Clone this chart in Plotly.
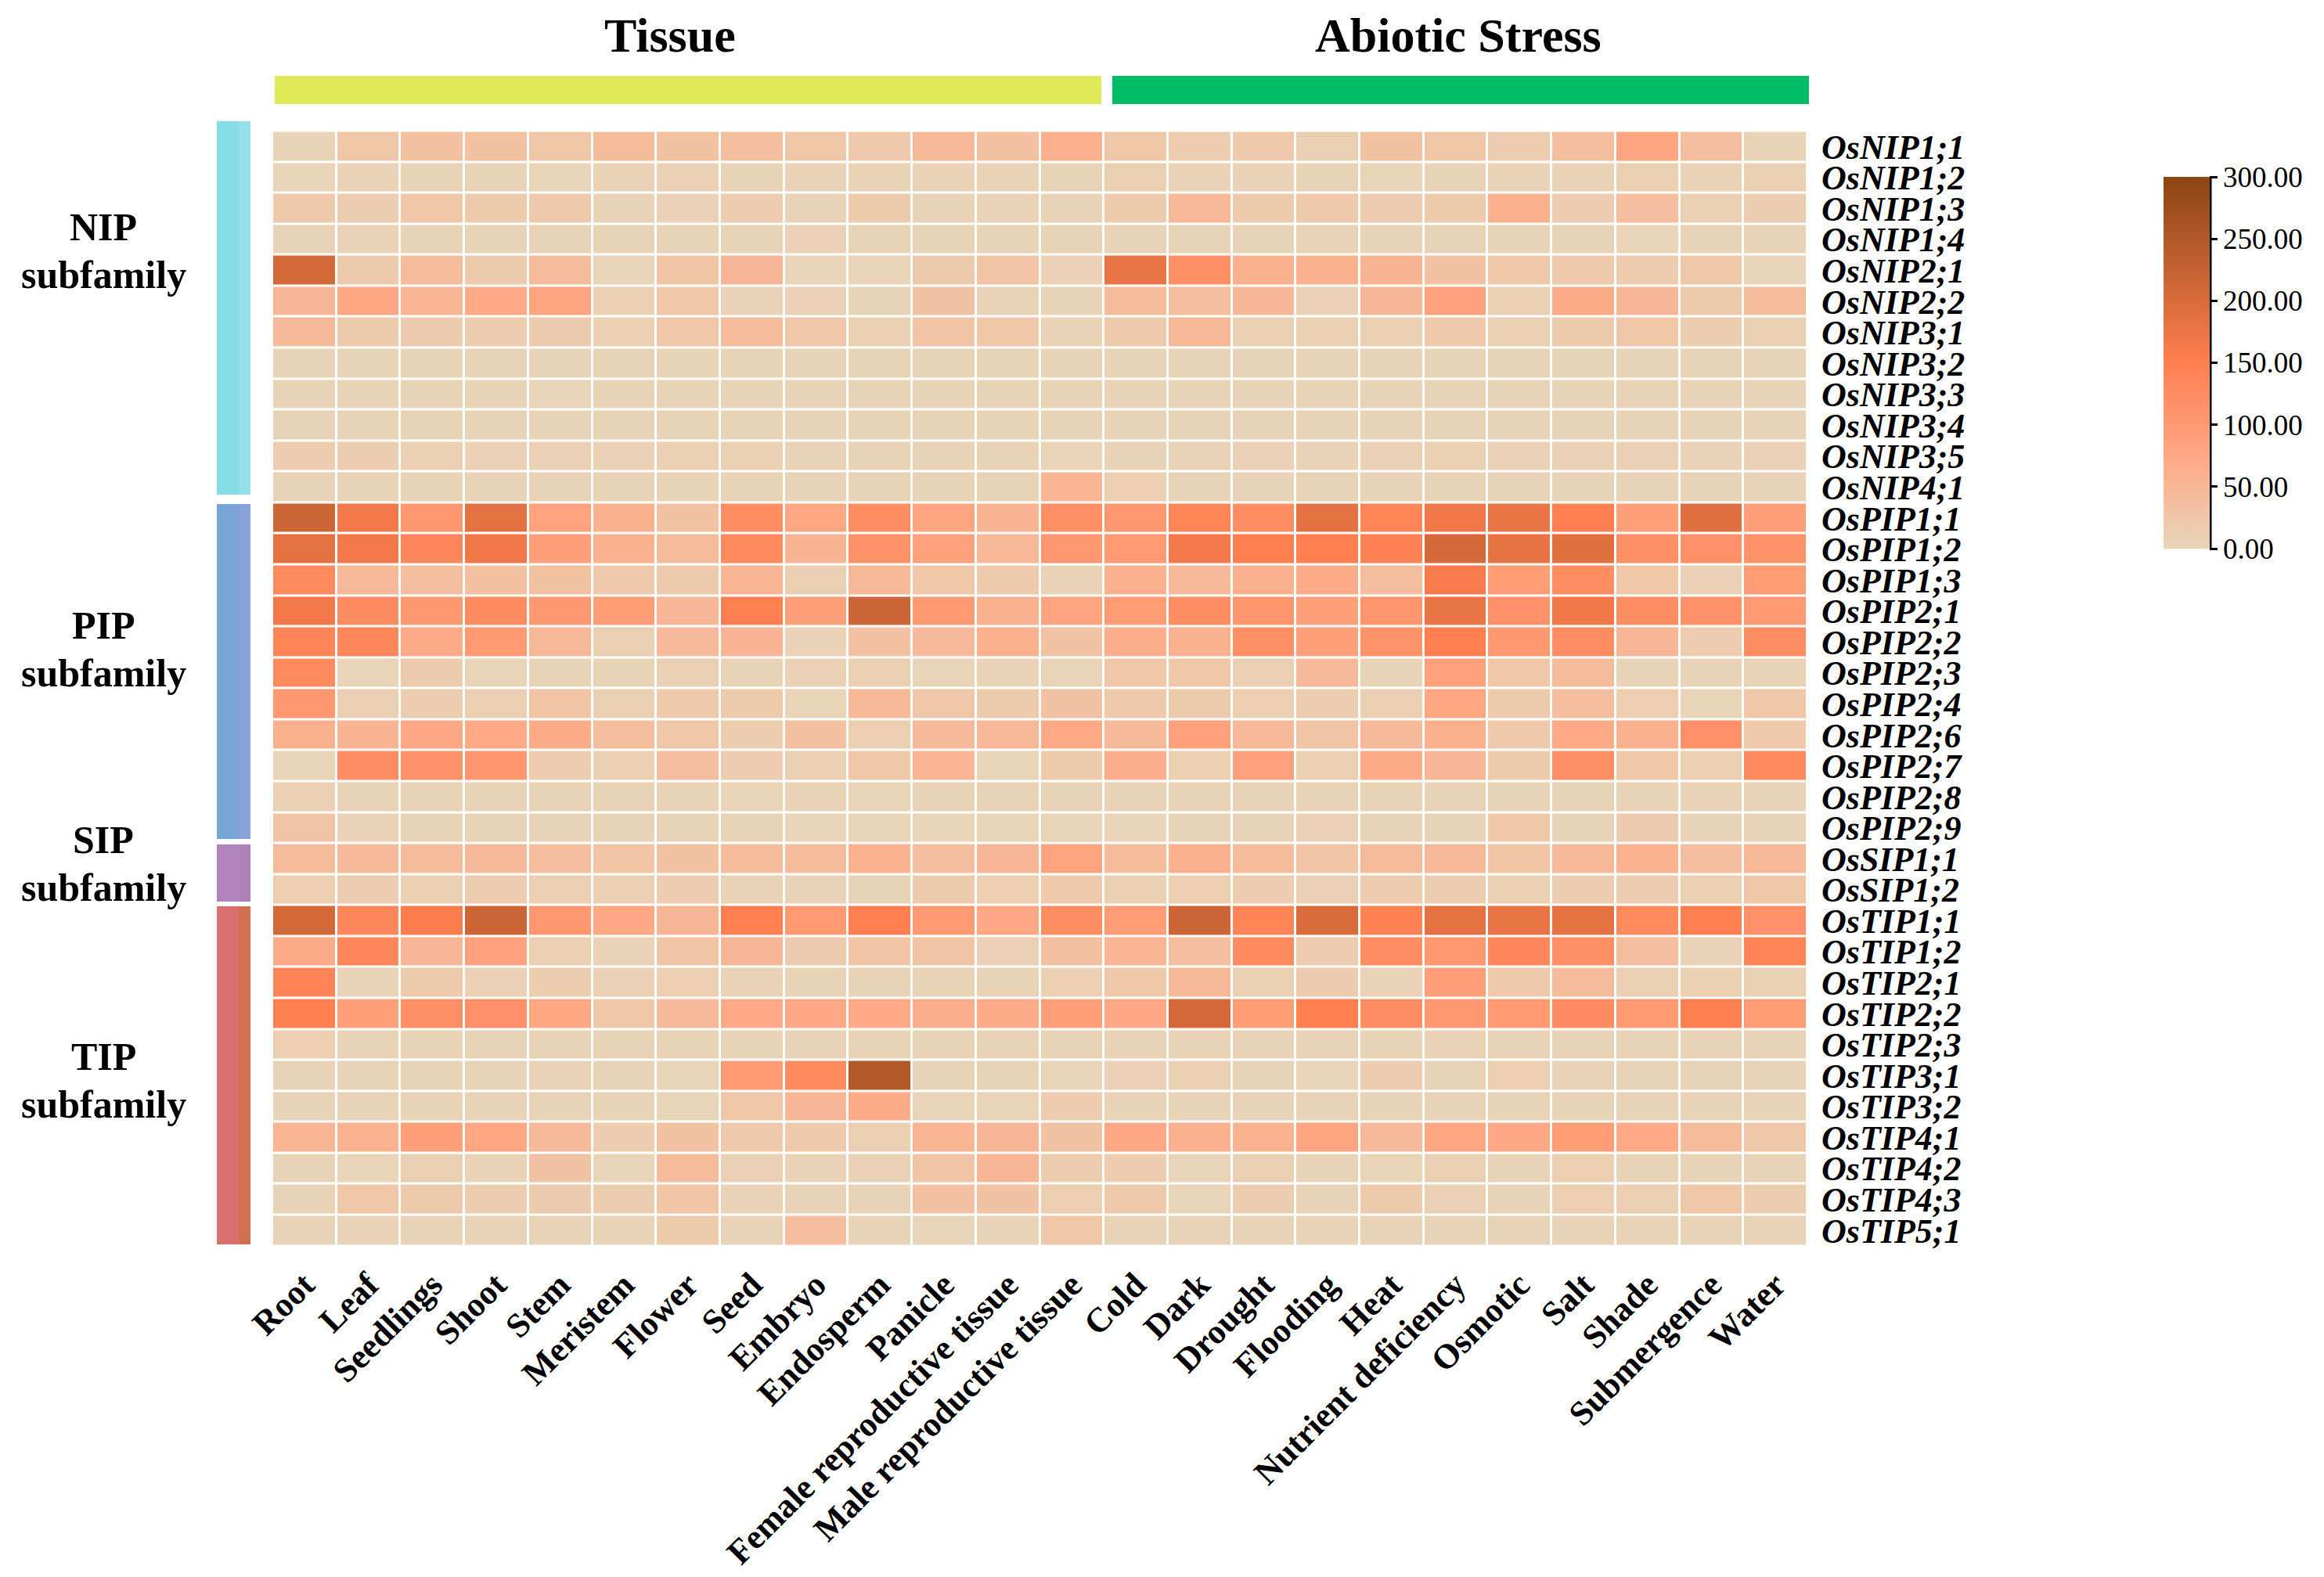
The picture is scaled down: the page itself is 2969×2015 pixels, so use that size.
import plotly.graph_objects as go

W = 2969
H = 2015

tissue = ["Root", "Leaf", "Seedlings", "Shoot", "Stem", "Meristem", "Flower", "Seed", "Embryo",
          "Endosperm", "Panicle", "Female reproductive tissue", "Male reproductive tissue"]
stress = ["Cold", "Dark", "Drought", "Flooding", "Heat", "Nutrient deficiency", "Osmotic", "Salt",
          "Shade", "Submergence", "Water"]

nip_genes = ["OsNIP1;1", "OsNIP1;2", "OsNIP1;3", "OsNIP1;4", "OsNIP2;1", "OsNIP2;2", "OsNIP3;1",
             "OsNIP3;2", "OsNIP3;3", "OsNIP3;4", "OsNIP3;5", "OsNIP4;1"]
pip_genes = ["OsPIP1;1", "OsPIP1;2", "OsPIP1;3", "OsPIP2;1", "OsPIP2;2", "OsPIP2;3", "OsPIP2;4",
             "OsPIP2;6", "OsPIP2;7", "OsPIP2;8", "OsPIP2;9"]
sip_genes = ["OsSIP1;1", "OsSIP1;2"]
tip_genes = ["OsTIP1;1", "OsTIP1;2", "OsTIP2;1", "OsTIP2;2", "OsTIP2;3", "OsTIP3;1", "OsTIP3;2",
             "OsTIP4;1", "OsTIP4;2", "OsTIP4;3", "OsTIP5;1"]

nip_values = [
    [3, 22, 35, 32, 25, 42, 32, 38, 22, 20, 48, 35, 62, 22, 15, 20, 8, 32, 25, 15, 38, 80, 38, 3],
    [2, 5, 4, 3, 1, 5, 6, 3, 5, 5, 5, 5, 3, 8, 5, 5, 4, 2, 4, 5, 5, 8, 5, 7],
    [20, 14, 25, 18, 20, 4, 6, 15, 3, 18, 4, 5, 4, 18, 48, 18, 20, 15, 18, 62, 15, 38, 8, 14],
    [3, 5, 3, 3, 3, 3, 3, 3, 6, 3, 3, 3, 3, 4, 3, 3, 5, 3, 3, 3, 3, 2, 4, 3],
    [205, 18, 42, 18, 42, 1, 28, 50, 2, 2, 18, 28, 6, 178, 120, 62, 62, 55, 32, 22, 20, 15, 22, 1],
    [50, 78, 52, 72, 80, 7, 25, 5, 6, 4, 30, 5, 3, 42, 38, 50, 6, 50, 88, 8, 68, 50, 18, 42],
    [45, 18, 16, 15, 16, 10, 25, 42, 25, 8, 28, 22, 5, 20, 48, 8, 10, 10, 20, 8, 18, 24, 14, 8],
    [3, 3, 3, 3, 3, 3, 3, 3, 3, 3, 3, 3, 3, 3, 3, 3, 3, 3, 3, 3, 3, 3, 3, 3],
    [3, 3, 3, 3, 2, 3, 3, 3, 3, 3, 3, 3, 3, 3, 3, 3, 3, 3, 3, 3, 3, 3, 3, 3],
    [3, 3, 3, 3, 3, 3, 3, 3, 3, 3, 3, 3, 3, 4, 4, 4, 3, 3, 4, 3, 3, 3, 3, 3],
    [15, 14, 10, 6, 6, 6, 8, 8, 3, 3, 4, 3, 2, 3, 5, 6, 5, 6, 8, 6, 6, 6, 5, 6],
    [3, 3, 3, 3, 3, 3, 3, 3, 3, 3, 3, 3, 52, 12, 3, 3, 3, 3, 3, 3, 3, 3, 3, 3],
]
pip_values = [
    [215, 165, 105, 185, 85, 60, 32, 125, 78, 125, 82, 55, 120, 105, 138, 125, 185, 138, 170, 178, 150, 90, 190, 92],
    [185, 165, 135, 170, 90, 60, 42, 130, 55, 115, 88, 48, 105, 100, 165, 150, 150, 145, 205, 180, 190, 120, 118, 115],
    [130, 48, 38, 35, 32, 20, 18, 52, 10, 48, 22, 18, 5, 62, 45, 62, 68, 40, 160, 95, 125, 22, 6, 98],
    [165, 128, 103, 128, 103, 95, 50, 150, 92, 215, 100, 60, 82, 98, 122, 110, 90, 110, 178, 118, 168, 125, 115, 100],
    [140, 135, 70, 100, 48, 10, 45, 55, 5, 35, 45, 62, 30, 65, 60, 120, 90, 112, 150, 103, 125, 50, 15, 125],
    [130, 2, 16, 2, 4, 4, 8, 3, 6, 10, 2, 5, 2, 25, 22, 10, 45, 4, 88, 22, 42, 4, 3, 3],
    [105, 10, 14, 10, 28, 8, 20, 18, 2, 48, 24, 18, 30, 20, 18, 12, 14, 10, 78, 18, 38, 12, 2, 22],
    [62, 55, 75, 72, 68, 38, 25, 14, 35, 12, 45, 48, 72, 45, 88, 48, 28, 45, 62, 20, 72, 60, 118, 20],
    [2, 125, 115, 108, 15, 8, 36, 15, 8, 22, 52, 2, 18, 65, 8, 88, 10, 68, 50, 18, 120, 22, 10, 130],
    [7, 4, 3, 3, 3, 3, 3, 2, 5, 2, 3, 4, 3, 4, 4, 3, 4, 3, 4, 3, 4, 3, 5, 4],
    [26, 5, 3, 3, 3, 3, 3, 3, 2, 2, 2, 2, 2, 2, 3, 3, 6, 3, 3, 22, 3, 16, 3, 3],
]
sip_values = [
    [42, 45, 42, 45, 38, 28, 32, 42, 42, 58, 40, 50, 82, 42, 62, 42, 28, 42, 48, 28, 48, 58, 36, 48],
    [12, 14, 8, 15, 10, 10, 15, 5, 5, 4, 18, 12, 20, 7, 12, 15, 6, 15, 14, 10, 14, 14, 10, 22],
]
tip_values = [
    [205, 135, 155, 215, 105, 75, 50, 150, 100, 150, 100, 75, 125, 98, 215, 140, 200, 145, 185, 178, 185, 130, 150, 118],
    [68, 135, 50, 88, 10, 5, 28, 50, 16, 28, 28, 6, 35, 52, 40, 130, 15, 125, 105, 135, 120, 40, 5, 140],
    [140, 3, 18, 6, 14, 6, 12, 5, 3, 3, 4, 3, 12, 22, 48, 8, 16, 5, 92, 20, 42, 10, 7, 8],
    [150, 90, 120, 118, 78, 22, 45, 72, 75, 72, 65, 68, 90, 75, 205, 95, 150, 122, 105, 100, 128, 100, 150, 98],
    [12, 3, 3, 3, 3, 3, 3, 3, 3, 3, 3, 3, 3, 3, 3, 4, 3, 3, 5, 3, 4, 3, 3, 3],
    [3, 3, 3, 3, 5, 3, 2, 100, 130, 248, 3, 4, 2, 6, 8, 3, 2, 15, 3, 12, 5, 3, 3, 3],
    [3, 3, 3, 3, 3, 3, 1, 25, 50, 70, 2, 2, 15, 4, 3, 3, 3, 3, 3, 3, 3, 3, 3, 3],
    [52, 58, 90, 78, 45, 15, 32, 20, 20, 10, 52, 50, 30, 75, 60, 58, 80, 45, 78, 75, 95, 72, 42, 22],
    [3, 2, 8, 5, 30, 1, 42, 6, 5, 6, 28, 50, 14, 15, 1, 8, 3, 2, 8, 4, 12, 4, 4, 3],
    [3, 22, 18, 14, 16, 14, 28, 5, 3, 3, 35, 30, 12, 20, 1, 14, 3, 18, 6, 3, 12, 10, 22, 14],
    [3, 5, 3, 3, 3, 4, 18, 3, 38, 3, 1, 3, 22, 3, 3, 3, 3, 3, 3, 3, 3, 3, 3, 3],
]

cbar_ticks = [0, 50, 100, 150, 200, 250, 300]


def px_x(v):
    return v / W


def px_y(v):
    return 1 - v / H


conditions = tissue + stress
genes = nip_genes + pip_genes + sip_genes + tip_genes
values = nip_values + pip_values + sip_values + tip_values

fig = go.Figure()
fig.add_trace(go.Heatmap(
    z=values,
    x=conditions,
    y=genes,
    zmin=0,
    zmax=300,
    xgap=3,
    ygap=3,
    colorscale=[[0, "#E8D5B9"], [0.25, "#FFA885"], [0.5, "#FF7F50"], [1, "#8B4513"]],
    colorbar=dict(
        x=px_x(2764), xanchor="left", xpad=0,
        y=px_y(226), yanchor="top", ypad=0,
        thicknessmode="pixels", thickness=59,
        lenmode="pixels", len=475,
        outlinewidth=0,
        tickvals=cbar_ticks,
        tickformat=".2f",
        ticks="outside", ticklen=10, tickwidth=3, tickcolor="black",
        tickfont=dict(family="Liberation Serif", size=37, color="black"),
    ),
))

# strips above and left of the heatmap
shapes = []
for x0, x1, color in [(351, 1407, "#E0EA58"), (1421, 2311, "#00BC64")]:
    shapes.append(dict(type="rect", xref="paper", yref="paper", x0=px_x(x0), x1=px_x(x1),
                       y0=px_y(133), y1=px_y(97), fillcolor=color, line_width=0))

strips = [
    (155, 632, "#85DDE6", "#95DFE8"),
    (644, 1072, "#78A5D5", "#86A2D8"),
    (1079, 1152, "#B085BD", "#AE80B8"),
    (1158, 1590, "#D87070", "#D07050"),
]
for top, bottom, left_color, right_color in strips:
    shapes.append(dict(type="rect", xref="paper", yref="paper", x0=px_x(277), x1=px_x(305),
                       y0=px_y(bottom), y1=px_y(top), fillcolor=left_color, line_width=0))
    shapes.append(dict(type="rect", xref="paper", yref="paper", x0=px_x(305), x1=px_x(320),
                       y0=px_y(bottom), y1=px_y(top), fillcolor=right_color, line_width=0))

# colorbar axis line
shapes.append(dict(type="line", xref="paper", yref="paper", x0=px_x(2824), x1=px_x(2824),
                   y0=px_y(701), y1=px_y(226), line=dict(color="black", width=3)))

annotations = []
for text, x, y, size in [("Tissue", 856, 45, 62), ("Abiotic Stress", 1863, 45, 62)]:
    annotations.append(dict(text=text, xref="paper", yref="paper", x=px_x(x), y=px_y(y),
                            showarrow=False, xanchor="center", yanchor="middle",
                            font=dict(family="Liberation Serif", size=size, color="black", weight="bold")))

for name, y in [("NIP", 290), ("PIP", 799), ("SIP", 1073), ("TIP", 1350)]:
    annotations.append(dict(text=name, xref="paper", yref="paper", x=px_x(132), y=px_y(y),
                            showarrow=False, xanchor="center", yanchor="middle",
                            font=dict(family="Liberation Serif", size=50, color="black", weight="bold")))
    annotations.append(dict(text="subfamily", xref="paper", yref="paper", x=px_x(132), y=px_y(y + 61),
                            showarrow=False, xanchor="center", yanchor="middle",
                            font=dict(family="Liberation Serif", size=50, color="black", weight="bold")))

fig.update_layout(
    width=W,
    height=H,
    margin=dict(l=0, r=0, t=0, b=0),
    plot_bgcolor="white",
    paper_bgcolor="white",
    shapes=shapes,
    annotations=annotations,
    xaxis=dict(
        domain=[px_x(348), px_x(2309)],
        automargin=False,
        tickangle=-45,
        ticks="",
        tickmode="array",
        tickvals=conditions,
        showgrid=False,
        zeroline=False,
        showline=False,
        ticklabelstandoff=14,
        tickfont=dict(family="Liberation Serif", size=44, color="black", weight="bold"),
    ),
    yaxis=dict(
        domain=[px_y(1592), px_y(167.5)],
        automargin=False,
        side="right",
        autorange="reversed",
        ticks="",
        tickmode="array",
        tickvals=genes,
        showgrid=False,
        zeroline=False,
        showline=False,
        ticklabelstandoff=17,
        tickfont=dict(family="Liberation Serif", size=44, color="black", weight="bold", style="italic"),
    ),
)

fig.write_html("out.html", config=dict(displayModeBar=False),
               post_script="document.body.style.margin='0';")
